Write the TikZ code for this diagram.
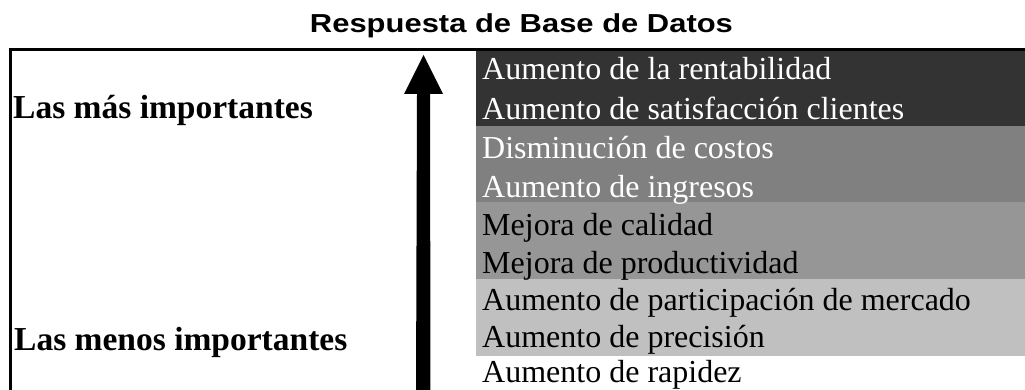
\documentclass[tikz,border=0pt]{standalone}
\usepackage{fontspec}
\setmainfont{Liberation Serif}
\newfontfamily\titlefont{Liberation Sans}
\definecolor{bandA}{HTML}{333333}
\definecolor{bandB}{HTML}{808080}
\definecolor{bandC}{HTML}{969696}
\definecolor{bandD}{HTML}{C0C0C0}
\begin{document}
\begin{tikzpicture}[x=1pt,y=-1pt,
  rowtxt/.style={anchor=base west, inner sep=0pt, font=\fontsize{32}{38}\selectfont},
  lbl/.style={anchor=base west, inner sep=0pt, font=\bfseries\fontsize{33.5}{38}\selectfont},
  frameline/.style={line width=3pt}]
\useasboundingbox (0,0) rectangle (1025,390);
\begin{scope}
\clip (0,0) rectangle (1025,390);
\fill[bandA] (476,51) rectangle (1030,126);
\fill[bandB] (476,126) rectangle (1030,202);
\fill[bandC] (476,202) rectangle (1030,279);
\fill[bandD] (476,279) rectangle (1030,356);
\draw[frameline] (10.5,49.5) rectangle (1040,400);
% arrow
\coordinate (abot) at (423.5,395);
\coordinate (abase) at (423.5,94);
\coordinate (atip) at (423.5,55);
\fill ([xshift=-7.5pt]abot) -- ([xshift=-6.5pt]abase) -- ([xshift=-19.5pt]abase) -- (atip)
  -- ([xshift=19.5pt]abase) -- ([xshift=6.5pt]abase) -- ([xshift=7pt]abot) -- cycle;
\end{scope}
\node[anchor=base, inner sep=0pt, font=\titlefont\bfseries\fontsize{26}{30}\selectfont] (title) at (521.5,33) {\scalebox{1.19}[1]{Respuesta de Base de Datos}};
\node[lbl] (most) at (13,119) {Las más importantes};
\node[lbl] (least) at (14,350) {Las menos importantes};
\node[rowtxt, text=white] (r1) at (482,80) {Aumento de la rentabilidad};
\node[rowtxt, text=white] (r2) at (482,120) {Aumento de satisfacción clientes};
\node[rowtxt, text=white] (r3) at (482,159) {Disminución de costos};
\node[rowtxt, text=white] (r4) at (482,197) {Aumento de ingresos};
\node[rowtxt] (r5) at (482,235) {Mejora de calidad};
\node[rowtxt] (r6) at (482,273) {Mejora de productividad};
\node[rowtxt] (r7) at (482,310) {Aumento de participación de mercado};
\node[rowtxt] (r8) at (482,347) {Aumento de precisión};
\node[rowtxt] (r9) at (482,382) {Aumento de rapidez};
\end{tikzpicture}
\end{document}
